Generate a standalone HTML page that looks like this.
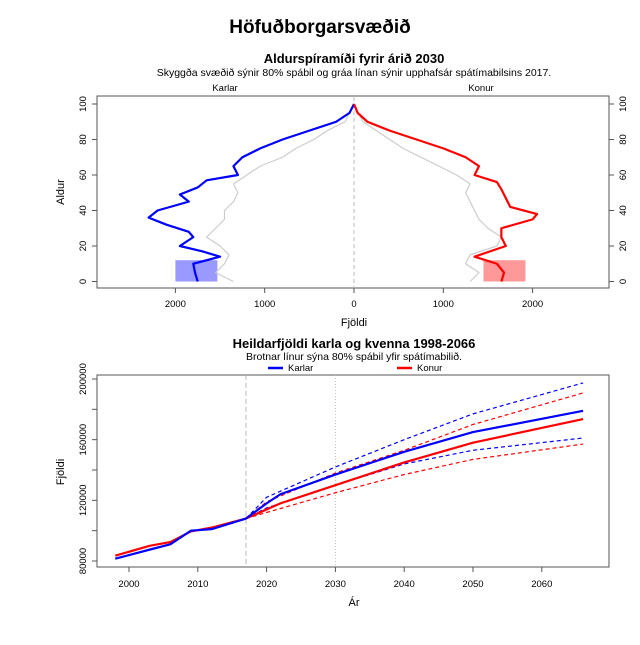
<!DOCTYPE html>
<html><head><meta charset="utf-8"><style>
body{margin:0;background:#fff;}
svg{font-family:"Liberation Sans",Arial,sans-serif;}
</style></head><body>
<svg id="c" width="640" height="640" viewBox="0 0 640 640">
<text x="320" y="33" text-anchor="middle" font-size="19" font-weight="bold">Höfuðborgarsvæðið</text>
<text x="354" y="63" text-anchor="middle" font-size="13" font-weight="bold">Aldurspíramíði fyrir árið 2030</text>
<text x="354" y="76" text-anchor="middle" font-size="10.5">Skyggða svæðið sýnir 80% spábil og gráa línan sýnir upphafsár spátímabilsins 2017.</text>
<text x="225" y="91" text-anchor="middle" font-size="9.5">Karlar</text>
<text x="481" y="91" text-anchor="middle" font-size="9.5">Konur</text>
<text x="354" y="326" text-anchor="middle" font-size="11">Fjöldi</text>
<text transform="translate(64,192) rotate(-90)" text-anchor="middle" font-size="11">Aldur</text>
<text x="354" y="348" text-anchor="middle" font-size="13" font-weight="bold">Heildarfjöldi karla og kvenna 1998-2066</text>
<text x="354" y="360" text-anchor="middle" font-size="10.5">Brotnar línur sýna 80% spábil yfir spátímabilið.</text>
<g>
<line x1="268" y1="368" x2="283" y2="368" stroke="#00f" stroke-width="2.5"/><text x="288" y="371" font-size="9.5">Karlar</text>
<line x1="397" y1="368" x2="412" y2="368" stroke="#f00" stroke-width="2.5"/><text x="417" y="371" font-size="9.5">Konur</text>
</g>
<text x="354" y="606" text-anchor="middle" font-size="11">Ár</text>
<text transform="translate(64,472) rotate(-90)" text-anchor="middle" font-size="11">Fjöldi</text>
</svg>
<script>
// Pyramid data
const ageK=[0,5,10,14,17,20,25,28,32,36,40,45,49,53,57,60,65,70,75,80,85,90,95,100];
const valK=[1750,1780,1800,1500,1700,1950,1800,1850,2100,2300,2200,1850,1950,1750,1650,1300,1350,1250,1050,800,500,200,50,0];
const ageGK=[0,5,10,15,20,25,30,35,40,45,50,55,60,65,70,75,80,85,90,100];
const valGK=[1350,1550,1450,1400,1500,1650,1550,1450,1450,1350,1300,1350,1200,1050,800,650,450,300,100,0];
const ageF=[0,5,10,14,20,25,30,35,38,42,47,52,56,60,65,70,75,80,85,90,95,100];
const valF=[1650,1680,1600,1350,1700,1650,1650,2000,2050,1750,1700,1650,1600,1350,1400,1250,1000,700,400,150,40,0];
const ageGF=[0,5,10,15,20,25,30,35,40,45,50,55,60,65,70,75,80,85,90,100];
const valGF=[1300,1400,1250,1300,1600,1650,1500,1400,1350,1300,1250,1300,1150,950,750,550,400,250,100,0];
const bandAges=[0,12];
const bandK=[1530,2000];
const bandF=[1450,1920];
// Totals data
const years=[1998,2003,2006,2009,2012,2017,2020,2022,2030,2040,2050,2066];
const karlar=[81500,87500,91000,100000,101000,108000,118000,124000,137000,152000,165000,179000];
const konur=[83500,90000,92500,99500,102000,108000,114000,118000,130000,145000,158000,173600];
const fYears=[2017,2020,2030,2040,2050,2066];
const karlarHi=[108000,122000,142000,160000,177000,197400];
const karlarLo=[108000,115000,130000,144000,153000,161100];
const konurHi=[108000,119000,138000,153000,170000,190800];
const konurLo=[108000,112000,125000,137000,147000,157100];
const pxTicks=[2000,1000,0,1000,2000];
const pyTicks=[0,20,40,60,80,100];
const tyTicks=[80000,120000,160000,200000];
const txTicks=[2000,2010,2020,2030,2040,2050,2060];

const S=document.getElementById('c');const NS='http://www.w3.org/2000/svg';
function el(t,a,p){const e=document.createElementNS(NS,t);for(const k in a)e.setAttribute(k,a[k]);(p||S).appendChild(e);return e;}
const px=v=>354+v*0.0893, py=a=>281.5-a*1.775;
const tx=y=>129+(y-2000)*6.88, ty=v=>561-(v-80000)*0.0015167;
// pyramid frame
let f=el('rect',{x:97,y:96,width:512,height:192,fill:'none',stroke:'#555'});

let z=el('line',{x1:354,y1:97,x2:354,y2:288,stroke:'#bbb','stroke-dasharray':'4,3'});

pxTicks.forEach((v,i)=>{const s=i<2?-1:1;const x=px(s*v);el('line',{x1:x,y1:288,x2:x,y2:293,stroke:'#555'});
 const t=el('text',{x:x,y:307,'font-size':9.5,'text-anchor':'middle'});t.textContent=v;
 });
pyTicks.forEach(a=>{const y=py(a);[[97,92,86],[609,614,626]].forEach(([a1,a2,lx])=>{el('line',{x1:a1,y1:y,x2:a2,y2:y,stroke:'#555'});
 const t=el('text',{x:0,y:0,'font-size':9.5,'text-anchor':'middle',transform:`translate(${lx},${y}) rotate(-90)`});t.textContent=a;
 });});
function band(lo,hi,s,col,name){const r=el('rect',{x:Math.min(px(s*lo),px(s*hi)),y:py(bandAges[1]),width:Math.abs(px(hi)-px(lo)),height:py(bandAges[0])-py(bandAges[1]),fill:col});
 }
band(bandK[0],bandK[1],-1,'#9999ff','karlar-band');band(bandF[0],bandF[1],1,'#ff9999','konur-band');
function pl(ages,vals,s,col,w,name){const p=el('polyline',{points:ages.map((a,i)=>px(s*vals[i])+','+py(a)).join(' '),fill:'none',stroke:col,'stroke-width':w,'stroke-linejoin':'round'});
 }
pl(ageGK,valGK,-1,'#ccc',1.2,'karlar-2017-line');pl(ageGF,valGF,1,'#ccc',1.2,'konur-2017-line');
pl(ageK,valK,-1,'#00f',2.2,'karlar-2030-line');pl(ageF,valF,1,'#f00',2.2,'konur-2030-line');
// totals frame
let f2=el('rect',{x:97,y:375,width:512,height:192,fill:'none',stroke:'#555'});

tyTicks.forEach(v=>{const y=ty(v);
 const t=el('text',{x:0,y:0,'font-size':9.5,'text-anchor':'middle',transform:`translate(86,${y}) rotate(-90)`});t.textContent=v;
 });
for(let v=80000;v<=200000;v+=20000){const y=ty(v);el('line',{x1:97,y1:y,x2:92,y2:y,stroke:'#555'});}
txTicks.forEach(v=>{const x=tx(v);el('line',{x1:x,y1:567,x2:x,y2:572,stroke:'#555'});
 const t=el('text',{x:x,y:587,'font-size':9.5,'text-anchor':'middle'});t.textContent=v;
 });
let v1=el('line',{x1:tx(2017),y1:375,x2:tx(2017),y2:567,stroke:'#bbb','stroke-dasharray':'5,3'});

let v2=el('line',{x1:tx(2030),y1:375,x2:tx(2030),y2:567,stroke:'#bbb','stroke-dasharray':'1,2'});

function tl(xs,vs,col,w,dash,name){const a={points:xs.map((x,i)=>tx(x)+','+ty(vs[i])).join(' '),fill:'none',stroke:col,'stroke-width':w,'stroke-linejoin':'round'};if(dash)a['stroke-dasharray']=dash;
 const p=el('polyline',a);}
tl(fYears,karlarHi,'#00f',1.2,'4,3','karlar-upper');tl(fYears,karlarLo,'#00f',1.2,'4,3','karlar-lower');
tl(fYears,konurHi,'#f00',1.2,'4,3','konur-upper');tl(fYears,konurLo,'#f00',1.2,'4,3','konur-lower');
tl(years,konur,'#f00',2.2,null,'konur-line');tl(years,karlar,'#00f',2.2,null,'karlar-line');
</script>
</body></html>
